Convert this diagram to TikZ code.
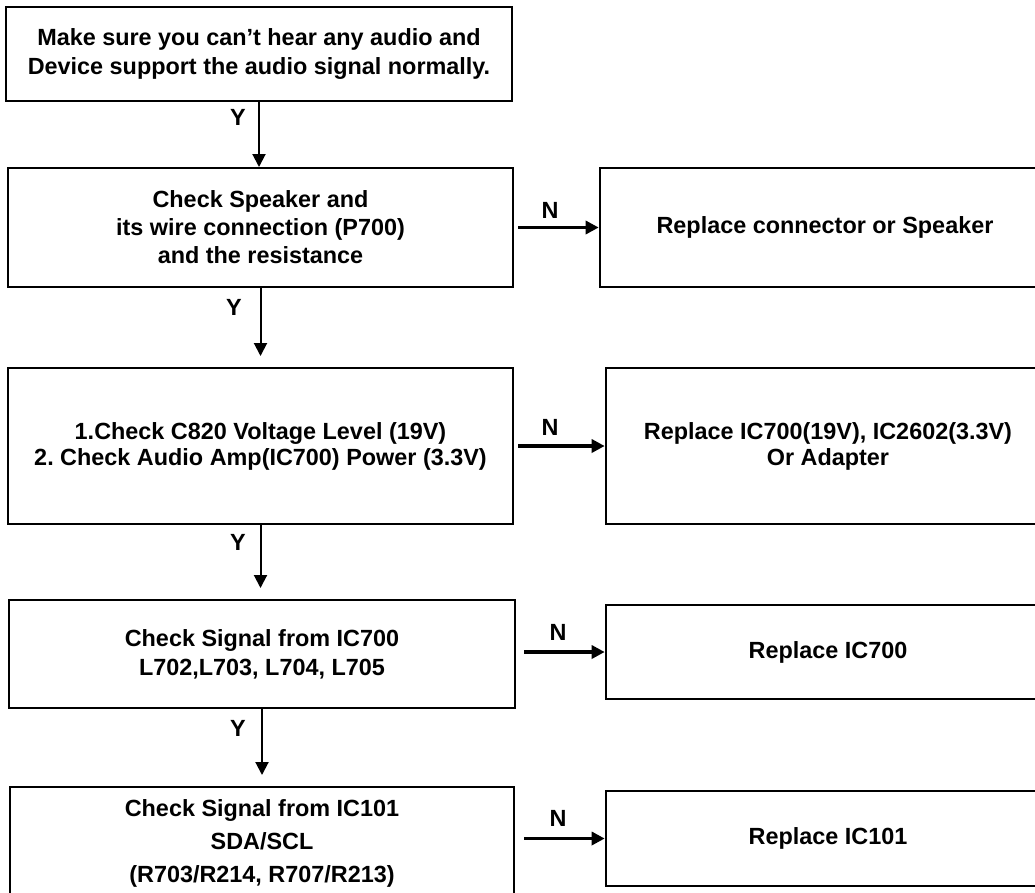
\documentclass[tikz,border=0pt]{standalone}
\usepackage{fontspec}
\setmainfont{Liberation Sans}
\usetikzlibrary{arrows.meta}
\begin{document}
\frenchspacing
\begin{tikzpicture}[x=1pt,y=-1pt,
  box/.style={draw, line width=2pt, align=center, inner sep=0pt,
    font=\bfseries\fontsize{23.4}{28}\selectfont},
  rbox/.style={box, line width=2.6pt},
  varr/.style={line width=2pt, -{Triangle[length=13pt,width=13pt]}},
  harr/.style={line width=3.5pt, -{Triangle[length=13pt,width=13pt]}},
  lab/.style={inner sep=0pt, font=\bfseries\fontsize{23.4}{28}\selectfont}]
\useasboundingbox (0,0) rectangle (1035,892);
\clip (0,0) rectangle (1035,892);

% left column
\node[box, minimum width=506pt, minimum height=94pt, font=\bfseries\fontsize{23.4}{29}\selectfont]
  (b1) at (259,54) {Make sure you can’t hear any audio and\\Device support the audio signal normally.};
\node[box, minimum width=505pt, minimum height=119pt]
  (b2) at (260.5,227.5) {Check Speaker and\\its wire connection (P700)\\and the resistance};
\node[box, minimum width=505pt, minimum height=156pt, font=\bfseries\fontsize{23.4}{26}\selectfont]
  (b3) at (260.5,446) {1.Check C820 Voltage Level (19V)\\2. Check Audio Amp(IC700) Power (3.3V)};
\node[box, minimum width=506pt, minimum height=108pt, font=\bfseries\fontsize{23.4}{29}\selectfont]
  (b4) at (262,654) {Check Signal from IC700\\L702,L703, L704, L705};
\node[box, minimum width=504pt, minimum height=112pt, font=\bfseries\fontsize{23.4}{33}\selectfont]
  (b5) at (262,843) {Check Signal from IC101\\SDA/SCL\\(R703/R214, R707/R213)};

% right column
\node[rbox, minimum width=450pt, minimum height=119pt]
  (r1) at (825,227.5) {Replace connector or Speaker};
\node[rbox, minimum width=444pt, minimum height=156pt, font=\bfseries\fontsize{23.4}{26}\selectfont]
  (r2) at (828,446) {Replace IC700(19V), IC2602(3.3V)\\Or Adapter};
\node[rbox, minimum width=444pt, minimum height=94pt]
  (r3) at (828,652) {Replace IC700};
\node[rbox, minimum width=444pt, minimum height=95pt]
  (r4) at (828,838.5) {Replace IC101};

% Y connectors
\draw[varr] (b1.south) -- (b1.south |- b2.north);
\draw[varr, shorten >=11pt] (b2.south) -- (b2.south |- b3.north);
\draw[varr, shorten >=11pt] (b3.south) -- (b3.south |- b4.north);
\draw[varr, shorten >=11pt] (b4.south) -- (b4.south |- b5.north);
\node[lab] (y1) at (238,117) {Y};
\node[lab] (y2) at (234,307) {Y};
\node[lab] (y3) at (238,542) {Y};
\node[lab] (y4) at (238,728) {Y};

% N connectors
\draw[harr, shorten <=4pt] (b2.east |- r1.west) -- (r1.west);
\draw[harr, shorten <=4pt] (b3.east |- r2.west) -- (r2.west);
\draw[harr, shorten <=8pt] (b4.east |- r3.west) -- (r3.west);
\draw[harr, shorten <=9pt] (b5.east |- r4.west) -- (r4.west);
\node[lab] (n1) at (550,210) {N};
\node[lab] (n2) at (550,427) {N};
\node[lab] (n3) at (558,632) {N};
\node[lab] (n4) at (558,818) {N};
\end{tikzpicture}
\end{document}
